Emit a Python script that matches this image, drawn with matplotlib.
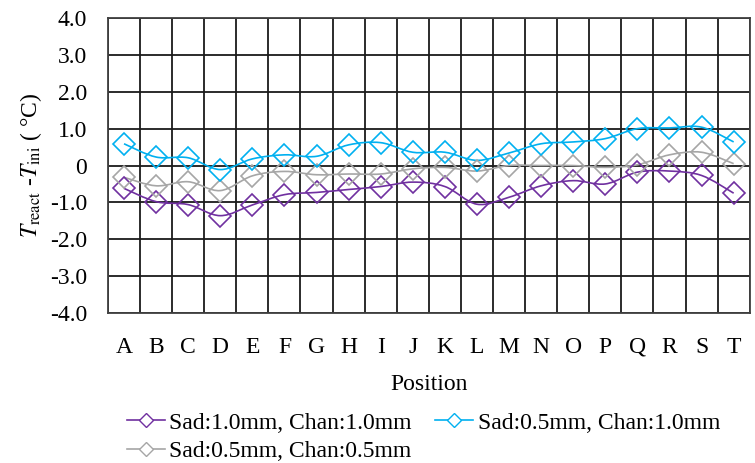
import numpy as np
import matplotlib
matplotlib.use("Agg")
import matplotlib.pyplot as plt
from matplotlib.path import Path
from matplotlib.patches import PathPatch
from matplotlib.lines import Line2D

plt.rcParams['font.family'] = ['Liberation Serif', 'DejaVu Serif']
plt.rcParams['mathtext.fontset'] = 'stix'

positions = list("ABCDEFGHIJKLMNOPQRST")

sad10_chan10 = [-0.62, -0.98, -1.06, -1.36, -1.07, -0.79, -0.73, -0.65, -0.57, -0.45,
                -0.57, -1.05, -0.86, -0.55, -0.41, -0.50, -0.18, -0.15, -0.27, -0.75]
sad05_chan10 = [0.59, 0.23, 0.21, -0.11, 0.18, 0.29, 0.25, 0.56, 0.62, 0.36,
                0.36, 0.14, 0.34, 0.59, 0.64, 0.73, 1.00, 1.02, 1.04, 0.64]
sad05_chan05 = [-0.32, -0.55, -0.44, -0.68, -0.28, -0.16, -0.25, -0.23, -0.23, -0.09,
                -0.05, -0.15, 0.0, 0.0, 0.0, -0.05, 0.02, 0.29, 0.36, 0.05]

series = [
    ("Sad:1.0mm, Chan:1.0mm", sad10_chan10, "#7030A0"),
    ("Sad:0.5mm, Chan:0.5mm", sad05_chan05, "#A6A6A6"),
    ("Sad:0.5mm, Chan:1.0mm", sad05_chan10, "#00B0F0"),
]

FS = 17


def smooth_path(x, y, t=1 / 6):
    # Catmull-Rom style cubic Bezier through the points
    x = np.asarray(x, float)
    y = np.asarray(y, float)
    pts = np.column_stack([x, y])
    verts = [pts[0]]
    codes = [Path.MOVETO]
    n = len(pts)
    for i in range(n - 1):
        p0 = pts[i - 1] if i > 0 else pts[i]
        p1 = pts[i]
        p2 = pts[i + 1]
        p3 = pts[i + 2] if i + 2 < n else pts[i + 1]
        c1 = p1 + (p2 - p0) * t
        c2 = p2 - (p3 - p1) * t
        verts += [c1, c2, p2]
        codes += [Path.CURVE4] * 3
    return Path(verts, codes)


fig = plt.figure(figsize=(7.55, 4.63), dpi=100)
ax = fig.add_axes([0.143, 0.324, 0.850, 0.637])

x = np.arange(len(positions))
handles = []
for label, vals, color in series:
    ax.add_patch(PathPatch(smooth_path(x, vals), facecolor='none',
                           edgecolor=color, lw=1.2, zorder=3))
    ax.plot(x, vals, linestyle='none', marker='D', ms=11.5, mfc='none',
            mec=color, mew=1.2, zorder=4)
    handles.append(Line2D([], [], color=color, lw=1.2, marker='D', ms=7,
                          mfc='white', mec=color, mew=1.0, label=label))

ax.set_xlim(-0.5, len(positions) - 0.5)
ax.set_ylim(-4, 4)
ax.set_xticks(x)
ax.set_xticklabels(positions)
ax.set_xticks(np.arange(-0.5, len(positions), 1), minor=True)
ax.set_yticks(np.arange(-4, 5, 1))
ax.set_yticklabels([("0" if v == 0 else f"{v:.1f}") for v in range(-4, 5)])

ax.grid(True, which='minor', axis='x', color='#1a1a1a', lw=1.3)
ax.grid(True, which='major', axis='y', color='#1a1a1a', lw=1.3)
ax.set_axisbelow(True)
for s in ax.spines.values():
    s.set_color('#404040')
    s.set_linewidth(1.3)

ax.tick_params(which='both', length=0, labelsize=FS)
ax.tick_params(axis='x', pad=17)
ax.tick_params(axis='y', pad=15)

ax.set_xlabel("Position", fontsize=FS, labelpad=12)
ax.set_ylabel(r"$T_{\mathrm{react}}$ -$T_{\mathrm{ini}}$ ( °C)", fontsize=FS, labelpad=4)

fig.legend(handles=handles, loc='upper left', bbox_to_anchor=(0.168, 0.11),
           ncol=2, frameon=False, fontsize=FS, handlelength=1.6,
           handletextpad=0.2, columnspacing=1.0, labelspacing=0.3,
           borderpad=0, borderaxespad=0)

fig.savefig("out.png", dpi=100)
